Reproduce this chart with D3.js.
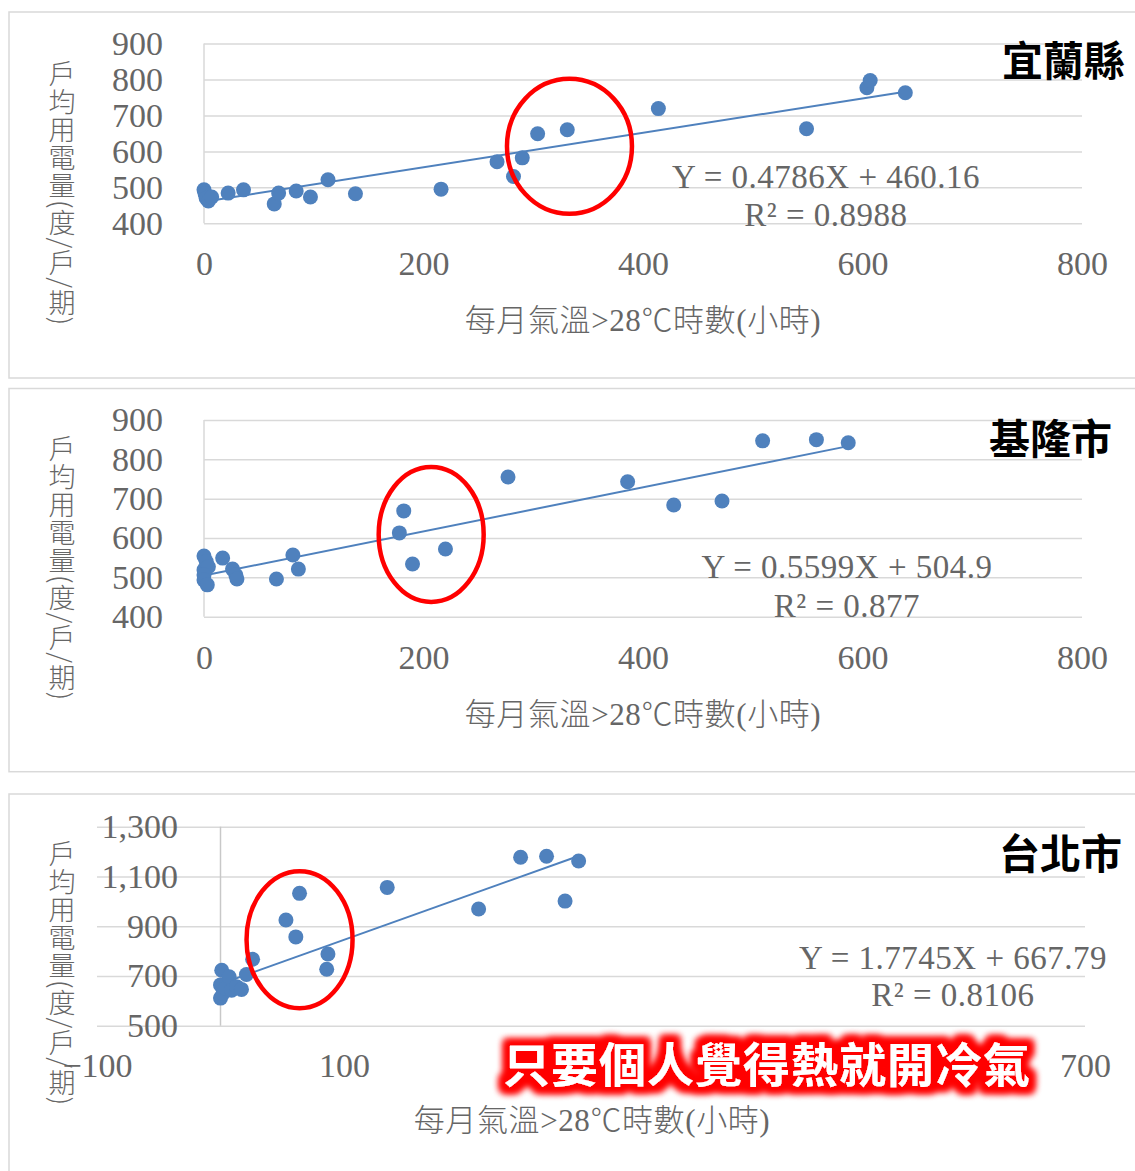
<!DOCTYPE html>
<html><head><meta charset="utf-8">
<script src="https://cdn.jsdelivr.net/npm/d3@7"></script>
<style>body{margin:0;background:#fff} svg{display:block}</style>
</head><body>
<svg id="c" width="1135" height="1171"></svg>
<script>
// ---------- data ----------
const yilanX = [0,1,2,4,7,22,36,64,68,84,97,113,138,216,267,282,290,304,331,414,549,604,607,639];
const yilanY = [493,482,470,462,473,484,493,454,484,490,473,521,482,495,571,530,582,649,660,719,663,777,797,763];

const keelungX = [0,2,0,4,0,0,3,17,26,29,30,66,81,86,178,182,190,220,277,386,428,472,509,558,587];
const keelungY = [554,540,519,527,506,493,481,549,521,506,496,496,557,521,613,669,534,572,755,743,684,694,847,850,842];

const taipeiX = [1,0,0,2,4,7,9,13,17,21,26,53,61,64,87,86,135,209,243,264,279,290];
const taipeiY = [723,664,611,630,651,697,643,657,646,706,767,925,857,1032,788,727,1056,969,1177,1181,1001,1162];

const regionNames = ["宜蘭縣","基隆市","台北市"];
const slopes = [0.4786, 0.5599, 1.7745];
const intercepts = [460.16, 504.9, 667.79];
const eqLabels = ["Y = 0.4786X + 460.16","Y = 0.5599X + 504.9","Y = 1.7745X + 667.79"];
const r2Labels = ["R² = 0.8988","R² = 0.877","R² = 0.8106"];

const xTicksA = [0,200,400,600,800];
const yTicksA = [400,500,600,700,800,900];
const xTicksB = [-100,100,700];          // 300 and 500 are hidden behind the banner in the original
const xDomainB = [-100,700];
const yTicksB = [500,700,900,1100,1300];

const yTitle = "戶均用電量(度/戶/期)";
const xTitle = "每月氣溫>28℃時數(小時)";
const banner = "只要個人覺得熱就開冷氣";
// circled (highlight) regions, centre in data units
const circleCx = [333, 207, 64];
const circleCy = [614, 609, 846];

// ---------- drawing ----------
const svg = d3.select("#c");
const grey = "#666666", grid = "#d9d9d9", blue = "#4f81bd";
const numFont = "'Liberation Serif', 'Times New Roman', serif";
const cjkFont = "'Noto Sans CJK TC', 'Noto Sans CJK SC', sans-serif";

const defs = svg.append("defs");
const f = defs.append("filter").attr("id","glow").attr("x","-10%").attr("y","-60%").attr("width","120%").attr("height","220%");
f.append("feMorphology").attr("in","SourceAlpha").attr("operator","dilate").attr("radius",6).attr("result","d");
f.append("feGaussianBlur").attr("in","d").attr("stdDeviation",3.5).attr("result","b");
f.append("feFlood").attr("flood-color","#ff0000").attr("result","fl");
f.append("feComposite").attr("in","fl").attr("in2","b").attr("operator","in").attr("result","g");
const m = f.append("feMerge");
m.append("feMergeNode").attr("in","g");
m.append("feMergeNode").attr("in","g");
m.append("feMergeNode").attr("in","SourceGraphic");

const layouts = [
  {frame:[9,12,1140,378], L:204,R:1082,T:43.5,B:223.3, xd:[0,800], yd:[400,900], xt:xTicksA, yt:yTicksA,
   yLabR:163, xLabBase:275, xTitleX:643, xTitleBase:331, yTitleX:62, yTitleTop:60,
   titleR:1125, titleBase:76, eqX:826, eqB:[188,226], rx:62.5, ry:67.5, zeroLine:false},
  {frame:[9,388.5,1140,771.7], L:204,R:1082,T:420,B:616.7, xd:[0,800], yd:[400,900], xt:xTicksA, yt:yTicksA,
   yLabR:163, xLabBase:669, xTitleX:643, xTitleBase:725, yTitleX:62, yTitleTop:435,
   titleR:1112, titleBase:454, eqX:847, eqB:[578,617], rx:52.5, ry:67.5, zeroLine:false},
  {frame:[9,794,1140,1185], L:97,R:1085,T:826.7,B:1025.7, xd:xDomainB, yd:[500,1300], xt:xTicksB, yt:yTicksB,
   yLabR:178, xLabBase:1077, xTitleX:592, xTitleBase:1131, yTitleX:62, yTitleTop:840,
   titleR:1122, titleBase:869, eqX:953, eqB:[969,1006], rx:53, ry:68.5, zeroLine:true}
];
const xsAll = [yilanX, keelungX, taipeiX];
const ysAll = [yilanY, keelungY, taipeiY];

layouts.forEach((p, i) => {
  const g = svg.append("g");
  g.append("rect").attr("x",p.frame[0]).attr("y",p.frame[1])
    .attr("width",p.frame[2]-p.frame[0]).attr("height",p.frame[3]-p.frame[1])
    .attr("fill","#fff").attr("stroke","#d9d9d9").attr("stroke-width",1.5);

  const x = d3.scaleLinear().domain(p.xd).range([p.L,p.R]);
  const y = d3.scaleLinear().domain(p.yd).range([p.B,p.T]);

  // y axis with gridlines
  const fmt = p.yd[1] > 1000 ? d3.format(",") : d3.format("d");
  const ya = g.append("g").attr("transform",`translate(${p.L},0)`)
    .call(d3.axisLeft(y).tickValues(p.yt).tickSize(-(p.R-p.L)).tickPadding(p.L - p.yLabR).tickFormat(fmt));
  ya.select(".domain").remove();
  ya.selectAll(".tick line").attr("stroke",grid).attr("stroke-width",1.5);
  ya.selectAll(".tick text").attr("fill",grey).style("font-family",numFont).style("font-size","34px");

  // left / zero vertical line
  const vx = p.zeroLine ? x(0) : p.L;
  g.append("line").attr("x1",vx).attr("x2",vx).attr("y1",p.T).attr("y2",p.B)
    .attr("stroke",p.zeroLine ? "#c8c8c8" : grid).attr("stroke-width",1.5);

  // x axis labels
  const xa = g.append("g").attr("transform",`translate(0,${p.B})`)
    .call(d3.axisBottom(x).tickValues(p.xt).tickSize(0).tickFormat(d3.format("d")));
  xa.select(".domain").remove();
  xa.selectAll(".tick text").attr("y", p.xLabBase - p.B).attr("dy",0)
    .attr("fill",grey).style("font-family",numFont).style("font-size","34px");

  // axis titles
  g.append("text").attr("x",p.xTitleX).attr("y",p.xTitleBase).attr("text-anchor","middle")
    .attr("fill",grey).style("font-family",numFont + "," + cjkFont).style("font-size","31px").style("font-weight",300)
    .style("letter-spacing","0.6px")
    .text(xTitle);
  g.append("text").attr("x",p.yTitleX).attr("y",p.yTitleTop)
    .attr("fill",grey).style("font-family",cjkFont).style("font-size","27px").style("font-weight",300)
    .style("writing-mode","vertical-rl").style("letter-spacing","1px")
    .text(yTitle);

  // trend line
  const xs = xsAll[i], ys = ysAll[i];
  const xmin = d3.min(xs), xmax = d3.max(xs);
  g.append("line").attr("x1",x(xmin)).attr("y1",y(slopes[i]*xmin+intercepts[i]))
    .attr("x2",x(xmax)).attr("y2",y(slopes[i]*xmax+intercepts[i]))
    .attr("stroke",blue).attr("stroke-width",2);

  // points
  g.append("g").selectAll("circle").data(xs.map((v,k)=>[v,ys[k]])).join("circle")
    .attr("cx",d=>x(d[0])).attr("cy",d=>y(d[1])).attr("r",7.5).attr("fill",blue);

  // equation
  g.append("text").attr("x",p.eqX).attr("y",p.eqB[0]).attr("text-anchor","middle")
    .attr("fill",grey).style("font-family",numFont).style("font-size","33px").style("letter-spacing","0.5px").text(eqLabels[i]);
  g.append("text").attr("x",p.eqX).attr("y",p.eqB[1]).attr("text-anchor","middle")
    .attr("fill",grey).style("font-family",numFont).style("font-size","33px").style("letter-spacing","0.5px").text(r2Labels[i]);

  // red ellipse
  g.append("ellipse").attr("cx",x(circleCx[i])).attr("cy",y(circleCy[i]))
    .attr("rx",p.rx).attr("ry",p.ry).attr("fill","none").attr("stroke","#ff0000").attr("stroke-width",4.5);

  // region title
  g.append("text").attr("x",p.titleR).attr("y",p.titleBase).attr("text-anchor","end")
    .attr("fill","#000").style("font-family",cjkFont).style("font-size","41px").style("font-weight",700)
    .text(regionNames[i]);
});

// banner
svg.append("text").attr("x",503).attr("y",1082).attr("fill","#fff").attr("filter","url(#glow)")
  .style("font-family",cjkFont).style("font-size","47px").style("font-weight",700).style("letter-spacing","1px")
  .text(banner);
</script>
</body></html>
